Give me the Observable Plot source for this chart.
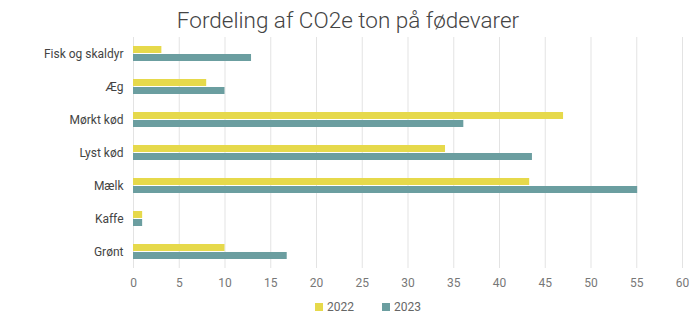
<!DOCTYPE html>
<html><head><meta charset="utf-8">
<script src="https://cdn.jsdelivr.net/npm/d3@7"></script>
<script src="https://cdn.jsdelivr.net/npm/@observablehq/plot@0.6"></script>
<style>
body{margin:0;background:#fff;font-family:Roboto,"Open Sans",sans-serif;}
#title{height:36px;line-height:40px;text-align:center;font-size:22.5px;color:#444;font-weight:300;}
#legend{display:flex;justify-content:center;gap:28px;font-size:12px;color:#666;margin-left:40px;height:21px;align-items:center;}
#legend span.sw{display:inline-block;width:8px;height:8px;margin-right:4px;vertical-align:middle;}
</style></head>
<body>
<div id="title">Fordeling af CO2e ton på fødevarer</div>
<div id="chart"></div>
<div id="legend"></div>
<script>
const categories = ["Fisk og skaldyr","Æg","Mørkt kød","Lyst kød","Mælk","Kaffe","Grønt"];
const years = ["2022","2023"];
const values2022 = [3.1, 8, 47, 34.1, 43.3, 1, 10];
const values2023 = [12.9, 10, 36.1, 43.6, 55.1, 1, 16.8];
const colors = ["#e6d94b","#6b9ea0"];
const xTicks = [0,5,10,15,20,25,30,35,40,45,50,55,60];

const data = [];
categories.forEach((c,i)=>{
  data.push({cat:c, year:"2022", value:values2022[i]});
  data.push({cat:c, year:"2023", value:values2023[i]});
});

const chart = Plot.plot({
  width:696, height:260,
  marginLeft:133, marginRight:14, marginTop:1, marginBottom:28,
  style:{fontFamily:"Roboto, sans-serif", fontSize:"12px", color:"#666", background:"#fff"},
  x:{domain:[0,60], ticks:xTicks, label:null},
  y:{domain:years, paddingInner:0.1, paddingOuter:1, axis:null},
  fy:{domain:categories, padding:0, label:null, axis:null},
  color:{domain:years, range:colors},
  marks:[
    Plot.ruleX(xTicks, {stroke:"#e3e3e3", strokeWidth:1}),
    Plot.barX(data, {x:"value", y:"year", fy:"cat", fill:"year"}),
    Plot.axisX({ticks:xTicks, tickSize:0, tickPadding:10, fill:"#777", label:null, fontSize:12}),
    Plot.axisFy({anchor:"left", tickSize:0, tickPadding:10, fill:"#444", label:null, fontSize:12})
  ]
});
document.getElementById("chart").appendChild(chart);

const lg = document.getElementById("legend");
years.forEach((y,i)=>{
  const d = document.createElement("div");
  d.innerHTML = `<span class="sw" style="background:${colors[i]}"></span>${y}`;
  lg.appendChild(d);
});
</script>
</body></html>
